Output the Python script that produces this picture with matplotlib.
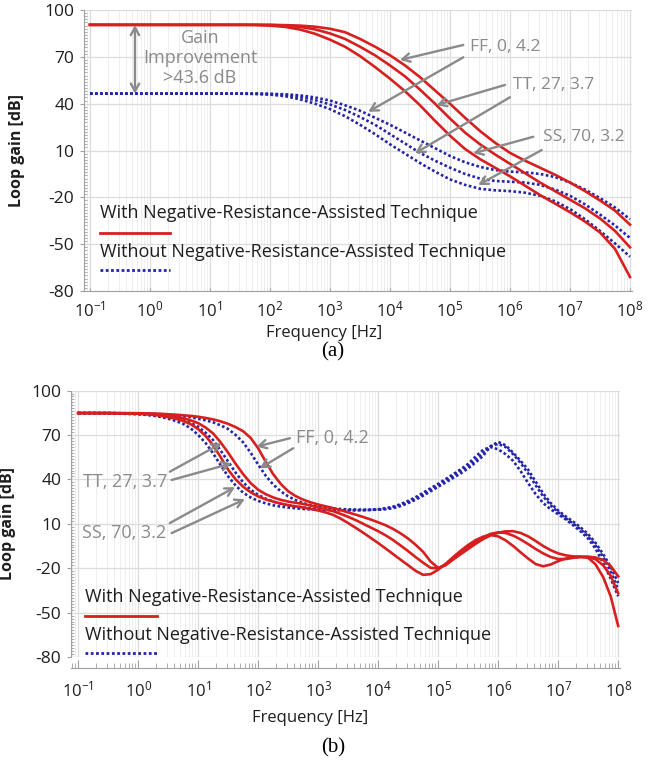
"""Loop gain vs frequency, with / without the negative-resistance-assisted
technique, for three process corners (FF, TT, SS). Panels (a) and (b)."""

import numpy as np
import matplotlib
matplotlib.use("Agg")
import matplotlib.pyplot as plt
from matplotlib.ticker import FixedLocator, LogLocator, MultipleLocator, NullFormatter

plt.rcParams['font.family'] = ['Open Sans', 'DejaVu Sans']
plt.rcParams['mathtext.fontset'] = 'custom'
plt.rcParams['mathtext.rm'] = 'Open Sans'
plt.rcParams['mathtext.it'] = 'Open Sans'
plt.rcParams['axes.unicode_minus'] = False

CORNERS = ["FF, 0, 4.2", "TT, 27, 3.7", "SS, 70, 3.2"]
Y_TICKS = [-80, -50, -20, 10, 40, 70, 100]
X_DECADES = [-1, 0, 1, 2, 3, 4, 5, 6, 7, 8]

# ---- panel (a): log10(f) every quarter decade -------------------------
A_EXP = [-1.0, -0.75, -0.5, -0.25, 0.0, 0.25, 0.5, 0.75, 1.0, 1.25, 1.5,
         1.75, 2.0, 2.25, 2.5, 2.75, 3.0, 3.25, 3.5, 3.75, 4.0, 4.25, 4.5,
         4.75, 5.0, 5.25, 5.5, 5.75, 6.0, 6.25, 6.5, 6.75, 7.0, 7.25, 7.5,
         7.75, 8.0]
A_WITH_FF = [90.5, 90.5, 90.5, 90.5, 90.5, 90.5, 90.5, 90.5, 90.5, 90.5, 90.5,
             90.5, 90.5, 90.3, 90.0, 89.3, 88.0, 85.8, 81.5, 76.5, 71.0, 64.5,
             57.0, 48.5, 40.0, 31.0, 22.5, 15.0, 8.5, 3.5, -1.0, -5.5, -10.5,
             -16.0, -22.0, -28.5, -37.5]
A_WITH_TT = [90.5, 90.5, 90.5, 90.5, 90.5, 90.5, 90.5, 90.5, 90.5, 90.5, 90.5,
             90.5, 90.4, 90.0, 89.2, 87.6, 85.0, 81.5, 76.5, 71.0, 64.5, 57.5,
             49.0, 40.0, 30.5, 21.5, 14.0, 7.5, 1.5, -4.5, -10.5, -16.0, -21.5,
             -27.0, -33.5, -41.5, -52.0]
A_WITH_SS = [90.5, 90.5, 90.5, 90.5, 90.5, 90.5, 90.5, 90.5, 90.5, 90.5, 90.5,
             90.4, 90.0, 89.2, 87.5, 84.8, 81.0, 76.5, 70.5, 63.5, 56.0, 48.0,
             39.0, 29.0, 19.5, 11.0, 4.5, -1.0, -6.5, -12.5, -18.5, -24.0,
             -29.5, -35.5, -42.5, -53.0, -71.0]
A_WO_FF = [46.4, 46.4, 46.4, 46.4, 46.4, 46.4, 46.4, 46.4, 46.4, 46.4, 46.4,
           46.4, 46.3, 46.0, 45.3, 44.0, 42.0, 39.0, 35.5, 31.0, 26.5, 21.5,
           16.5, 11.5, 6.5, 2.5, -0.5, -2.5, -3.5, -4.0, -5.0, -7.0, -10.5,
           -15.0, -20.5, -26.5, -34.0]
A_WO_TT = [46.4, 46.4, 46.4, 46.4, 46.4, 46.4, 46.4, 46.4, 46.4, 46.4, 46.4,
           46.4, 46.2, 45.6, 44.3, 42.3, 39.5, 36.0, 31.5, 26.5, 20.5, 14.5,
           8.5, 3.5, -1.0, -5.0, -8.0, -9.5, -10.0, -10.5, -12.0, -15.0, -19.0,
           -24.5, -31.0, -38.0, -46.0]
A_WO_SS = [46.4, 46.4, 46.4, 46.4, 46.4, 46.4, 46.4, 46.4, 46.4, 46.4, 46.4,
           46.2, 45.8, 44.8, 42.8, 40.0, 36.5, 32.0, 26.5, 20.5, 14.0, 8.0,
           2.0, -3.5, -8.5, -12.0, -14.5, -15.5, -16.0, -17.0, -19.0, -22.5,
           -27.5, -34.0, -41.5, -49.5, -58.0]

# ---- panel (b): log10(f) every eighth decade from 10^0 -----------------
B_EXP = [-1.0, -0.5,
         0.0, 0.125, 0.25, 0.375, 0.5, 0.625, 0.75, 0.875,
         1.0, 1.125, 1.25, 1.375, 1.5, 1.625, 1.75, 1.875,
         2.0, 2.125, 2.25, 2.375, 2.5, 2.625, 2.75, 2.875,
         3.0, 3.125, 3.25, 3.375, 3.5, 3.625, 3.75, 3.875,
         4.0, 4.125, 4.25, 4.375, 4.5, 4.625, 4.75, 4.875,
         5.0, 5.125, 5.25, 5.375, 5.5, 5.625, 5.75, 5.875,
         6.0, 6.125, 6.25, 6.375, 6.5, 6.625, 6.75, 6.875,
         7.0, 7.125, 7.25, 7.375, 7.5, 7.625, 7.75, 7.875,
         8.0]
B_WITH_FF = [84.8, 84.8,
             84.7, 84.6, 84.5, 84.3, 84.0, 83.7, 83.3, 82.9,
             82.3, 81.5, 80.5, 79.2, 77.5, 75.3, 72.5, 68.0,
             61.0, 52.0, 43.5, 37.0, 32.0, 28.7, 26.3, 24.5,
             23.0, 21.8, 20.6, 19.2, 17.7, 16.2, 14.6, 12.9,
             11.0, 9.0, 6.5, 3.5, 0.0, -4.2, -9.0, -15.5,
             -19.8, -18.0, -14.0, -10.5, -7.0, -3.5, -0.3, 2.2,
             4.0, 4.9, 5.0, 3.8, 1.5, -1.6, -5.0, -7.8,
             -10.0, -11.3, -12.0, -12.2, -12.2, -12.8, -14.5, -18.5,
             -25.5]
B_WITH_TT = [84.8, 84.8,
             84.5, 84.3, 84.0, 83.6, 83.0, 82.3, 81.3, 79.9,
             78.0, 75.0, 71.0, 65.0, 58.0, 50.5, 43.5, 37.5,
             33.0, 30.0, 27.8, 26.2, 25.0, 24.2, 23.4, 22.3,
             21.0, 19.8, 18.5, 16.7, 14.7, 12.5, 10.0, 7.5,
             5.0, 2.2, -1.0, -4.7, -8.5, -12.5, -16.3, -19.8,
             -20.0, -17.5, -14.0, -10.0, -6.0, -2.3, 1.0, 3.2,
             4.2, 3.8, 2.0, -0.6, -3.7, -7.0, -10.0, -12.4,
             -13.8, -13.8, -13.0, -12.5, -12.5, -14.0, -18.0, -25.0,
             -37.0]
B_WITH_SS = [84.8, 84.7,
             84.3, 84.0, 83.6, 83.0, 82.0, 81.0, 79.5, 77.3,
             74.0, 69.3, 63.0, 55.0, 46.5, 40.0, 35.0, 31.3,
             28.5, 26.5, 25.0, 23.7, 22.6, 21.8, 21.0, 20.0,
             19.0, 17.7, 16.0, 13.5, 10.5, 7.3, 4.0, 0.5,
             -3.0, -6.7, -10.5, -14.3, -18.0, -21.8, -24.5, -24.0,
             -21.0, -17.0, -12.5, -8.2, -4.3, -1.0, 1.3, 2.4,
             1.5, -1.2, -5.0, -9.3, -13.5, -17.2, -18.7, -17.5,
             -15.2, -13.5, -12.6, -12.3, -13.0, -17.5, -26.0, -39.0,
             -59.0]
B_WO_FF = [84.8, 84.8,
           84.6, 84.5, 84.3, 84.0, 83.7, 83.3, 82.7, 82.0,
           81.0, 79.9, 78.5, 76.5, 74.0, 70.0, 65.0, 58.0,
           50.0, 42.5, 36.5, 32.0, 28.5, 26.0, 24.0, 22.6,
           21.5, 20.8, 20.3, 20.0, 19.7, 19.6, 19.5, 19.5,
           19.6, 19.9, 20.6, 22.0, 24.0, 26.3, 29.0, 32.0,
           35.0, 38.0, 41.0, 44.0, 47.5, 51.5, 56.0, 62.5,
           65.3, 63.0, 58.0, 52.5, 46.5, 38.5, 30.5, 24.0,
           19.0, 15.0, 11.5, 7.5, 3.0, -3.0, -10.5, -19.0,
           -30.0]
B_WO_TT = [84.8, 84.8,
           84.3, 84.0, 83.6, 83.0, 82.3, 81.3, 80.0, 78.2,
           75.5, 71.5, 66.5, 59.5, 52.0, 44.5, 38.0, 33.0,
           29.5, 27.0, 25.0, 23.6, 22.5, 21.7, 21.0, 20.4,
           20.0, 19.7, 19.5, 19.4, 19.3, 19.3, 19.3, 19.4,
           19.6, 20.1, 21.1, 22.6, 24.5, 27.0, 30.0, 33.0,
           36.0, 39.2, 42.5, 45.7, 49.0, 53.2, 58.0, 62.3,
           64.0, 61.8, 57.0, 51.0, 44.0, 36.0, 28.5, 22.5,
           17.8, 13.8, 10.2, 6.2, 1.5, -4.8, -12.5, -22.0,
           -34.5]
B_WO_SS = [84.8, 84.7,
           84.0, 83.6, 83.0, 82.2, 81.0, 79.5, 77.5, 74.5,
           70.0, 64.5, 57.5, 49.5, 42.0, 35.8, 31.0, 27.8,
           25.5, 23.8, 22.5, 21.6, 21.0, 20.5, 20.0, 19.7,
           19.5, 19.3, 19.2, 19.1, 19.1, 19.1, 19.2, 19.4,
           19.8, 20.5, 21.6, 23.3, 25.5, 28.0, 31.0, 34.0,
           37.0, 40.2, 43.5, 46.8, 50.5, 55.5, 60.0, 61.8,
           60.3, 57.0, 52.5, 45.5, 37.5, 30.0, 24.0, 19.8,
           16.5, 13.0, 9.0, 4.8, 0.0, -7.0, -16.5, -27.0,
           -39.0]

RED = '#d81f1f'
BLUE = '#2424a8'
GRAY = '#8a8a8a'
TXT = '#1e1e1e'
DOTS = (0, (1.0, 0.9))


def style_axes(ax, xlo, ruler):
    ax.set_xscale('log')
    ax.set_xlim(10 ** xlo, 10 ** 8.03)
    ax.set_ylim(-80, 100)
    ax.xaxis.set_major_locator(FixedLocator([10.0 ** k for k in X_DECADES]))
    ax.xaxis.set_minor_locator(LogLocator(base=10, subs=np.arange(2, 10), numticks=20))
    ax.xaxis.set_minor_formatter(NullFormatter())
    ax.yaxis.set_major_locator(FixedLocator(Y_TICKS))
    ax.yaxis.set_minor_locator(MultipleLocator(2))
    ax.grid(which='major', color='#dcdcdc', lw=0.9)
    ax.grid(which='minor', axis='x', color='#eeeeee', lw=0.7)
    ax.set_axisbelow(True)
    for s in ('top', 'right'):
        ax.spines[s].set_visible(False)
    ax.spines['left'].set_color('#a0a0a0')
    ax.spines['bottom'].set_color('#a0a0a0')
    ax.tick_params(axis='y', which='major', direction='out', length=3,
                   color='#a0a0a0', labelsize=12.5, pad=4, labelcolor=TXT)
    ax.tick_params(axis='y', which='minor', direction='in', length=2.5,
                   color='#a0a0a0')
    if ruler:
        ax.spines['bottom'].set_position(('outward', 8))
        ax.tick_params(axis='x', which='major', direction='in', length=6,
                       color='#a0a0a0', labelsize=12, pad=9, labelcolor=TXT)
        ax.tick_params(axis='x', which='minor', direction='in', length=3.5,
                       color='#a0a0a0')
    else:
        ax.tick_params(axis='x', which='major', direction='in', length=2,
                       color='#a0a0a0', labelsize=12, pad=7, labelcolor=TXT)
        ax.tick_params(axis='x', which='minor', length=0)
    ax.set_ylabel('Loop gain [dB]', fontsize=11.5, fontweight='bold', color=TXT)
    ax.set_xlabel('Frequency [Hz]', fontsize=12, color=TXT)


def draw_curves(ax, exps, withs, withouts):
    freq = 10.0 ** np.array(exps)
    for y in withouts:
        ax.plot(freq, y, color=BLUE, lw=1.9, ls=DOTS, zorder=3)
    for y in withs:
        ax.plot(freq, y, color=RED, lw=1.9, zorder=4, solid_joinstyle='round')


def arrow(ax, tail, tip):
    ax.annotate('', xy=(10 ** tip[0], tip[1]), xytext=(10 ** tail[0], tail[1]),
                arrowprops=dict(arrowstyle='->,head_length=0.55,head_width=0.3',
                                color=GRAY, lw=1.7, shrinkA=0, shrinkB=0),
                zorder=6)


def legend_block(ax, x0, x1, ys):
    ax.text(10 ** x0, ys[0], 'With Negative-Resistance-Assisted Technique',
            fontsize=13, color=TXT, va='center', ha='left', zorder=7)
    ax.plot([10 ** x0, 10 ** x1], [ys[1], ys[1]], color=RED, lw=2.0, zorder=7)
    ax.text(10 ** x0, ys[2], 'Without Negative-Resistance-Assisted Technique',
            fontsize=13, color=TXT, va='center', ha='left', zorder=7)
    ax.plot([10 ** x0, 10 ** x1], [ys[3], ys[3]], color=BLUE, lw=2.0,
            ls=DOTS, zorder=7)


fig = plt.figure(figsize=(6.67, 7.64), dpi=100)

# ---------------- (a) ----------------
ax_a = fig.add_axes([0.1259, 0.6191, 0.8213, 0.3678])
style_axes(ax_a, -1.1, ruler=False)
draw_curves(ax_a, A_EXP, [A_WITH_FF, A_WITH_TT, A_WITH_SS],
            [A_WO_FF, A_WO_TT, A_WO_SS])
ax_a.yaxis.set_label_coords(-0.107, 0.5)
ax_a.xaxis.set_label_coords(0.438, -0.121)

ax_a.annotate('', xy=(10 ** -0.25, 90.4), xytext=(10 ** -0.25, 46.4),
              arrowprops=dict(arrowstyle='<->,head_length=0.55,head_width=0.3',
                              color=GRAY, lw=1.7, shrinkA=0, shrinkB=0), zorder=6)
ax_a.text(10 ** 0.833, 69.3, 'Gain\nImprovement\n>43.6 dB', fontsize=13,
          color=GRAY, ha='center', va='center', linespacing=1.15, zorder=6)

ax_a.text(10 ** 5.333, 76.3, CORNERS[0], fontsize=12.5, color=GRAY, va='center')
arrow(ax_a, (5.222, 77.6), (4.167, 68.0))
arrow(ax_a, (5.222, 69.7), (3.638, 34.8))
ax_a.text(10 ** 6.05, 52.0, CORNERS[1], fontsize=12.5, color=GRAY, va='center')
arrow(ax_a, (5.917, 52.0), (4.778, 39.1))
arrow(ax_a, (6.0, 44.1), (4.417, 8.2))
ax_a.text(10 ** 6.55, 18.8, CORNERS[2], fontsize=12.5, color=GRAY, va='center')
arrow(ax_a, (6.388, 18.8), (5.388, 8.2))
arrow(ax_a, (6.528, 10.3), (5.472, -12.1))

legend_block(ax_a, -0.833, 0.333, [-30.0, -42.9, -55.0, -66.6])

# ---------------- (b) ----------------
ax_b = fig.add_axes([0.1064, 0.140, 0.8231, 0.3488])
style_axes(ax_b, -1.12, ruler=True)
draw_curves(ax_b, B_EXP, [B_WITH_FF, B_WITH_TT, B_WITH_SS],
            [B_WO_FF, B_WO_TT, B_WO_SS])
ax_b.yaxis.set_label_coords(-0.100, 0.5)
ax_b.xaxis.set_label_coords(0.435, -0.199)

ax_b.text(10 ** 2.628, 67.8, CORNERS[0], fontsize=13, color=GRAY, va='center')
arrow(ax_b, (2.528, 67.8), (1.973, 62.1))
arrow(ax_b, (2.583, 61.0), (2.028, 47.5))
ax_b.text(10 ** -0.922, 38.5, CORNERS[1], fontsize=13, color=GRAY, va='center')
arrow(ax_b, (0.528, 45.2), (1.39, 64.4))
arrow(ax_b, (0.557, 39.6), (1.557, 50.8))
ax_b.text(10 ** -0.943, 3.7, CORNERS[2], fontsize=13, color=GRAY, va='center')
arrow(ax_b, (0.528, 10.5), (1.612, 34.7))
arrow(ax_b, (0.557, 3.7), (1.778, 26.6))

legend_block(ax_b, -0.888, 0.312, [-39.2, -52.1, -64.9, -77.0])

fig.text(333 / 667, 1 - 352 / 764, '(a)', fontsize=15, family='Liberation Serif',
         ha='center', va='center', color='black')
fig.text(333 / 667, 1 - 748 / 764, '(b)', fontsize=15, family='Liberation Serif',
         ha='center', va='center', color='black')

fig.savefig('out.png', dpi=100)
